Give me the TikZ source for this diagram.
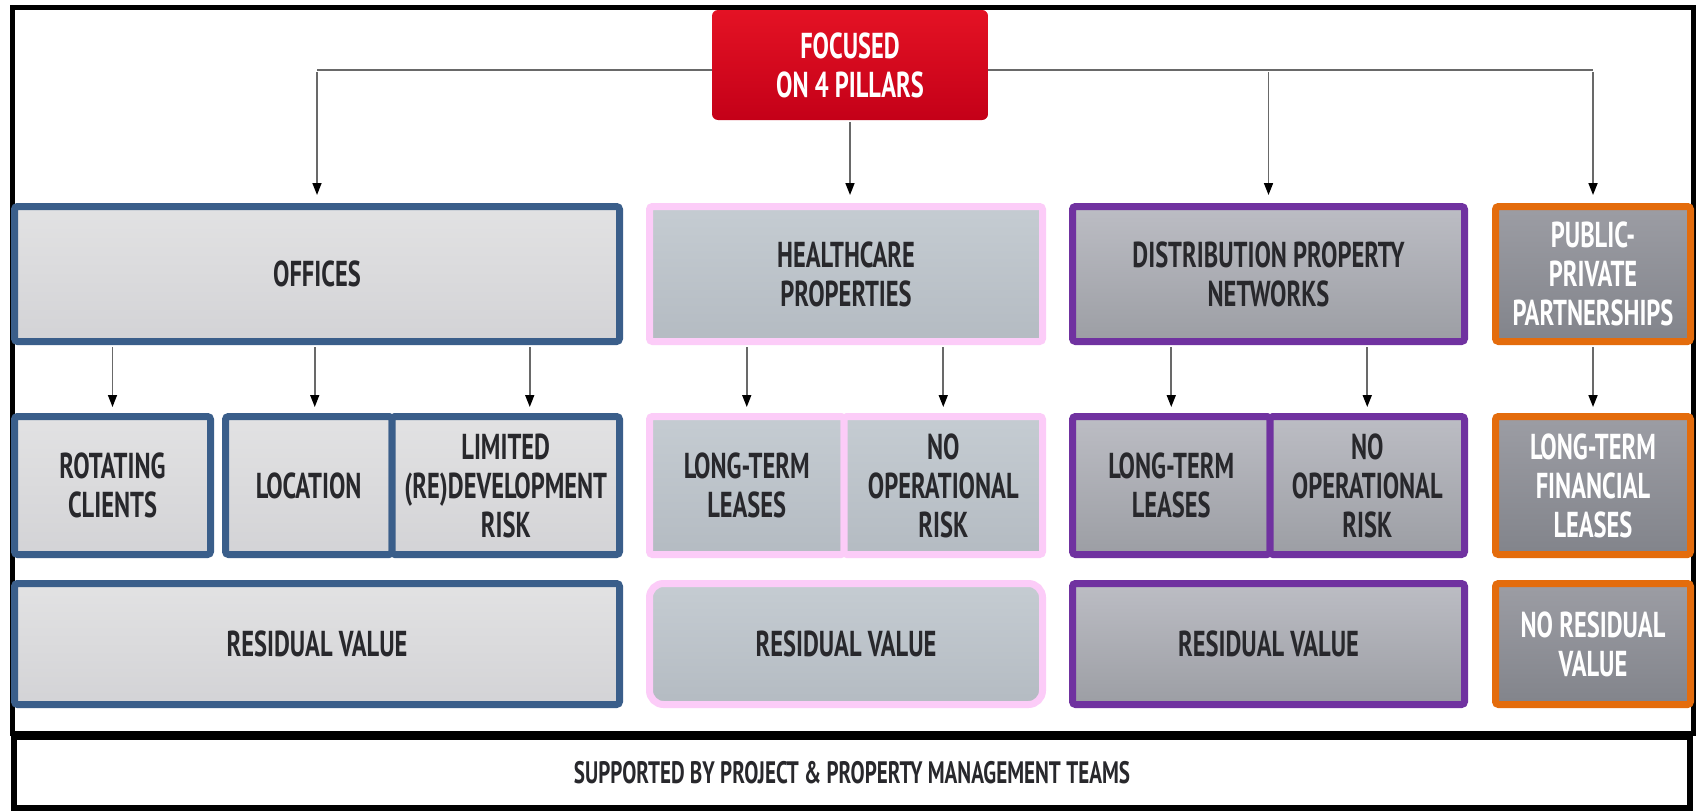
\documentclass[tikz,border=0pt]{standalone}
\usepackage{fontspec}
\setmainfont{PT Sans}[FakeStretch=0.68]
\usetikzlibrary{arrows.meta}
\definecolor{offBorder}{RGB}{58,94,138}
\definecolor{hcBorder}{RGB}{252,204,248}
\definecolor{dpBorder}{RGB}{112,50,160}
\definecolor{ppBorder}{RGB}{228,108,12}
\definecolor{offTop}{RGB}{226,226,227}
\definecolor{offBot}{RGB}{211,211,214}
\definecolor{hcTop}{RGB}{197,204,210}
\definecolor{hcBot}{RGB}{180,187,194}
\definecolor{dpTop}{RGB}{188,189,196}
\definecolor{dpBot}{RGB}{156,158,164}
\definecolor{ppTop}{RGB}{156,157,164}
\definecolor{ppBot}{RGB}{130,132,139}
\definecolor{redTop}{RGB}{228,18,36}
\definecolor{redBot}{RGB}{196,0,24}
\definecolor{txt}{RGB}{40,40,44}
\definecolor{conn}{RGB}{105,105,105}
\begin{document}
\begin{tikzpicture}[x=1pt,y=-1pt,
  lbl/.style={font=\fontsize{36}{39}\selectfont\bfseries},
  box/.style={draw, line width=7pt, rounded corners=3pt, inner sep=0pt, align=center,
    text=txt, lbl},
  offbox/.style={box, draw=offBorder, top color=offTop, bottom color=offBot},
  hcbox/.style={box, draw=hcBorder, top color=hcTop, bottom color=hcBot},
  dpbox/.style={box, draw=dpBorder, top color=dpTop, bottom color=dpBot},
  ppbox/.style={box, draw=ppBorder, top color=ppTop, bottom color=ppBot, text=white},
  rowa/.style={minimum height=135pt},
  rowb/.style={minimum height=138pt},
  rowc/.style={minimum height=121pt},
  busline/.style={draw=conn, line width=1.6pt},
  arr/.style={draw=conn, line width=1.6pt, shorten >=6pt, shorten <=2pt,
    -{Triangle[length=12pt,width=9pt,color=black]}}
]
\useasboundingbox (0,0) rectangle (1696,811);
\fill[white] (0,0) rectangle (1696,811);
% outer frame
\draw[line width=5pt] (12.5,7) rectangle (1693.5,733);

% top node
\node[top color=redTop, bottom color=redBot, rounded corners=6pt, inner sep=0pt,
  minimum width=276pt, minimum height=110pt, text=white, align=center, lbl]
  (focus) at (850,65) {FOCUSED\\ON 4 PILLARS};

% row 1
\node[offbox, rowa, minimum width=605pt] (off) at (317,274) {OFFICES};
\node[hcbox, rowa, minimum width=393pt] (hc) at (846,274) {HEALTHCARE\\PROPERTIES};
\node[dpbox, rowa, minimum width=392pt] (dp) at (1268.5,274) {DISTRIBUTION PROPERTY\\NETWORKS};
\node[ppbox, rowa, minimum width=195pt] (pp) at (1593,274) {PUBLIC-\\PRIVATE\\PARTNERSHIPS};

% row 2
\node[offbox, rowb, minimum width=196pt] (rot) at (112.5,485.5) {ROTATING\\CLIENTS};
\node[offbox, rowb, minimum width=166.5pt] (loc) at (308.75,485.5) {LOCATION};
\node[offbox, rowb, minimum width=227.5pt] (lim) at (505.75,485.5) {LIMITED\\(RE)DEVELOPMENT\\RISK};
\node[hcbox, rowb, minimum width=194.5pt] (hclt) at (746.75,485.5) {LONG-TERM\\LEASES};
\node[hcbox, rowb, minimum width=198.5pt] (hcno) at (943.25,485.5) {NO\\OPERATIONAL\\RISK};
\node[dpbox, rowb, minimum width=197.5pt] (dplt) at (1171.25,485.5) {LONG-TERM\\LEASES};
\node[dpbox, rowb, minimum width=194.5pt] (dpno) at (1367.25,485.5) {NO\\OPERATIONAL\\RISK};
\node[ppbox, rowb, minimum width=195pt] (pplt) at (1593,485.5) {LONG-TERM\\FINANCIAL\\LEASES};

% row 3
\node[offbox, rowc, minimum width=605pt] (offrv) at (317,644) {RESIDUAL VALUE};
\node[hcbox, rowc, minimum width=393pt, rounded corners=14pt] (hcrv) at (846,644) {RESIDUAL VALUE};
\node[dpbox, rowc, minimum width=392pt] (dprv) at (1268.5,644) {RESIDUAL VALUE};
\node[ppbox, rowc, minimum width=195pt] (pprv) at (1593,644) {NO RESIDUAL\\VALUE};

% bottom
\node[draw=black, line width=6pt, fill=white, inner sep=0pt, minimum width=1676pt,
  minimum height=71pt, text=txt, font=\fontsize{31}{34}\selectfont\bfseries] (support) at (852,772.5)
  {SUPPORTED BY PROJECT \& PROPERTY MANAGEMENT TEAMS};

% connectors
\coordinate (bus) at (850,70);
\draw[busline] (off.north |- bus) -- (focus.west |- bus);
\draw[busline] (focus.east |- bus) -- (pp.north |- bus);
\draw[arr, shorten >=8pt] (off.north |- bus) -- (off.north);
\draw[arr, shorten >=8pt] (focus.south) -- (focus.south |- hc.north);
\draw[arr, shorten >=8pt] (dp.north |- bus) -- (dp.north);
\draw[arr, shorten >=8pt] (pp.north |- bus) -- (pp.north);

\coordinate (locx) at ([xshift=6pt]loc.north);
\coordinate (limx) at ([xshift=24pt]lim.north);
\draw[arr] (off.south -| rot.north) -- (rot.north);
\draw[arr] (off.south -| locx) -- (locx);
\draw[arr] (off.south -| limx) -- (limx);
\draw[arr] (hc.south -| hclt.north) -- (hclt.north);
\draw[arr] (hc.south -| hcno.north) -- (hcno.north);
\draw[arr] (dp.south -| dplt.north) -- (dplt.north);
\draw[arr] (dp.south -| dpno.north) -- (dpno.north);
\draw[arr] (pp.south) -- (pplt.north);
\end{tikzpicture}
\end{document}
